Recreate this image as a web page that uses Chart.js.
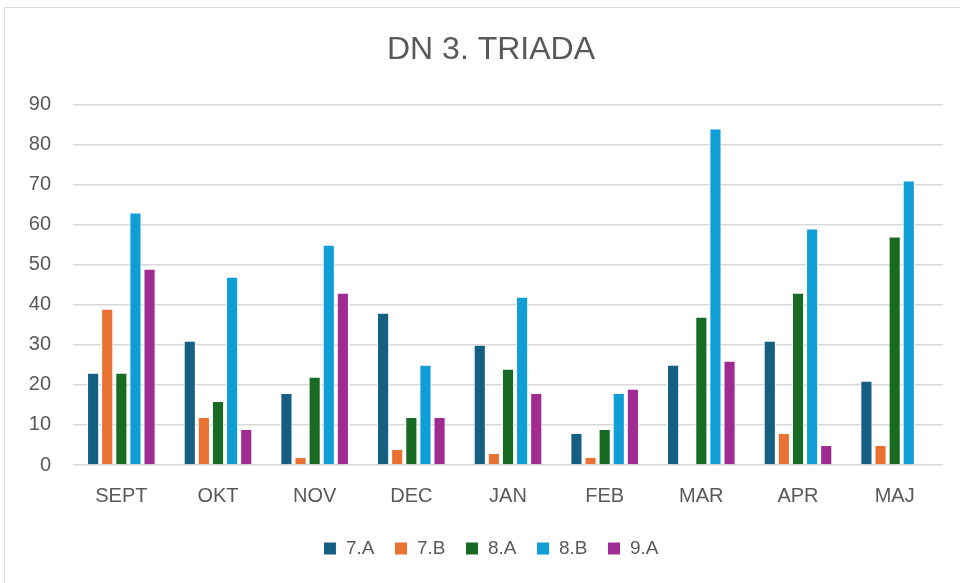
<!DOCTYPE html>
<html>
<head>
<meta charset="utf-8">
<script src="https://cdn.jsdelivr.net/npm/chart.js@4"></script>
<style>
  body { margin: 0; background: #fff; }
  #wrap { position: absolute; left: 4px; top: 7px; width: 970px; height: 590px; border: 1px solid #d9d9d9; box-sizing: border-box; }
  canvas { display: block; }
</style>
</head>
<body>
<div id="wrap"><canvas id="chart"></canvas></div>
<script>
const months = ['SEPT', 'OKT', 'NOV', 'DEC', 'JAN', 'FEB', 'MAR', 'APR', 'MAJ'];
const class7A = [23, 31, 18, 38, 30, 8, 25, 31, 21];
const class7B = [39, 12, 2, 4, 3, 2, 0, 8, 5];
const class8A = [23, 16, 22, 12, 24, 9, 37, 43, 57];
const class8B = [63, 47, 55, 25, 42, 18, 84, 59, 71];
const class9A = [49, 9, 43, 12, 18, 19, 26, 5, 0];
const yTicks = [0, 10, 20, 30, 40, 50, 60, 70, 80, 90];

const txt = '#595959';
const font = 'Liberation Sans, Arial, sans-serif';

function ds(label, data, color) {
    return {
        label, data,
        backgroundColor: color,
        borderColor: '#ffffff',
        borderWidth: 1,
        barPercentage: 0.86,
        categoryPercentage: 0.73
    };
}

// widen the y axis box to the left so its labels are not clipped
const widenY = {
    id: 'widenY',
    afterLayout(chart) { chart.scales.y.left -= 34; }
};

new Chart(document.getElementById('chart'), {
    type: 'bar',
    data: {
        labels: months,
        datasets: [
            ds('7.A', class7A, '#156082'),
            ds('7.B', class7B, '#E97132'),
            ds('8.A', class8A, '#196B24'),
            ds('8.B', class8B, '#0F9ED5'),
            ds('9.A', class9A, '#A02B93')
        ]
    },
    plugins: [widenY],
    options: {
        responsive: true,
        maintainAspectRatio: false,
        animation: false,
        // left padding + fixed y-axis width keep title/legend centred like the original
        layout: { padding: { left: 34, right: 30, top: 14, bottom: 28 } },
        plugins: {
            title: {
                display: true,
                text: 'DN 3. TRIADA',
                color: txt,
                font: { family: font, size: 32, weight: 'normal' },
                padding: { top: 9, bottom: 35 }
            },
            legend: {
                position: 'bottom',
                labels: {
                    color: txt,
                    font: { family: font, size: 19 },
                    boxWidth: 13,
                    boxHeight: 13,
                    padding: 20
                }
            },
            tooltip: { enabled: false }
        },
        scales: {
            x: {
                grid: { display: false },
                border: { display: false },
                ticks: { color: txt, font: { family: font, size: 20 }, padding: 11 }
            },
            y: {
                min: yTicks[0],
                max: yTicks[yTicks.length - 1],
                afterBuildTicks: axis => { axis.ticks = yTicks.map(v => ({ value: v })); },
                afterFit: axis => { axis.width = 34; },
                grid: { color: '#d9d9d9', lineWidth: 1.5, drawTicks: false },
                border: { display: false },
                ticks: { color: txt, font: { family: font, size: 20 }, padding: 22 }
            }
        }
    }
});
</script>
</body>
</html>
